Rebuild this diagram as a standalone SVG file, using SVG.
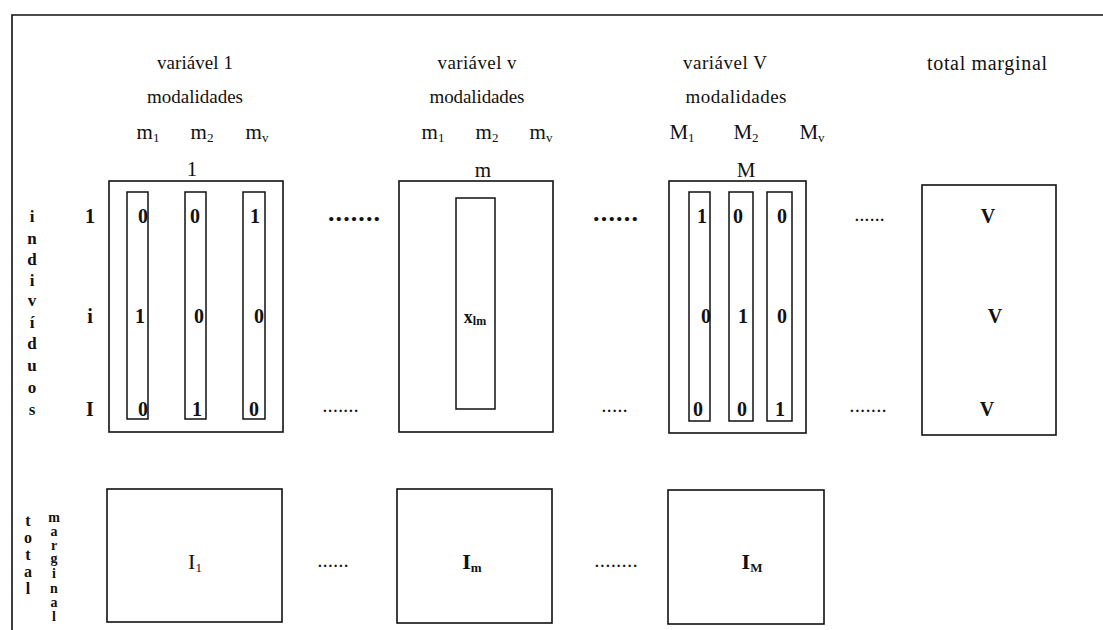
<svg xmlns="http://www.w3.org/2000/svg" width="1103" height="630" viewBox="0 0 1103 630">
<style>
text{font-family:"Liberation Serif","DejaVu Serif","Times New Roman",serif;fill:#111}
.h{font-size:19px;text-anchor:middle}
.ml{font-size:21px;text-anchor:middle}
.sub{font-size:13px}
.v{font-size:20px;font-weight:bold;text-anchor:middle}
.lab{font-size:17px;font-weight:bold;text-anchor:middle}
.lab2{font-size:16px;font-weight:bold;text-anchor:middle}
.lab3{font-size:14px;font-weight:bold;text-anchor:middle}
.box{fill:none;stroke:#111;stroke-width:1.6}
.col{fill:none;stroke:#111;stroke-width:1.5}
.big{font-size:26px;font-weight:bold}
.sm{font-size:15px;font-weight:bold}
.tot{font-size:22px;text-anchor:middle}
</style>
<rect width="1103" height="630" fill="#fff"/>
<g id="frame"><path d="M12 630V15H1103" fill="none" stroke="#111" stroke-width="1.6"/></g>

<g id="headers">
<text class="h" x="195" y="69" textLength="76" lengthAdjust="spacing">variável 1</text>
<text class="h" x="195" y="103" textLength="96" lengthAdjust="spacing">modalidades</text>
<text class="ml" x="148" y="139">m<tspan class="sub" dy="3">1</tspan></text>
<text class="ml" x="202" y="139">m<tspan class="sub" dy="3">2</tspan></text>
<text class="ml" x="257" y="139">m<tspan class="sub" dy="3">v</tspan></text>
<text class="ml" x="192" y="176">1</text>

<text class="h" x="477" y="69" textLength="79" lengthAdjust="spacing">variável  v</text>
<text class="h" x="477" y="103" textLength="95" lengthAdjust="spacing">modalidades</text>
<text class="ml" x="433" y="139">m<tspan class="sub" dy="3">1</tspan></text>
<text class="ml" x="487" y="139">m<tspan class="sub" dy="3">2</tspan></text>
<text class="ml" x="541" y="139">m<tspan class="sub" dy="3">v</tspan></text>
<text class="ml" x="483" y="177">m</text>

<text class="h" x="725" y="69" textLength="84" lengthAdjust="spacing">variável V</text>
<text class="h" x="736" y="103" textLength="101" lengthAdjust="spacing">modalidades</text>
<text class="ml" x="682" y="139">M<tspan class="sub" dy="3">1</tspan></text>
<text class="ml" x="746" y="139">M<tspan class="sub" dy="3">2</tspan></text>
<text class="ml" x="812" y="139">M<tspan class="sub" dy="3">v</tspan></text>
<text class="ml" x="746" y="177">M</text>

<text class="h" x="987" y="70" style="font-size:20px" textLength="120" lengthAdjust="spacing">total marginal</text>
</g>

<g id="row-labels">
<text class="lab"><tspan x="32" y="222">i</tspan><tspan x="32" y="244">n</tspan><tspan x="32" y="265">d</tspan><tspan x="32" y="286">i</tspan><tspan x="32" y="306">v</tspan><tspan x="32" y="328">í</tspan><tspan x="32" y="349">d</tspan><tspan x="32" y="371">u</tspan><tspan x="32" y="393">o</tspan><tspan x="32" y="415">s</tspan></text>
<text class="v" x="90" y="223">1</text>
<text class="v" x="90" y="323">i</text>
<text class="v" x="90" y="416">I</text>
</g>

<g id="matrix-1">
<rect class="box" x="109" y="181" width="174" height="251"/>
<rect class="col" x="127" y="192" width="21" height="227"/>
<rect class="col" x="185" y="192" width="21" height="227"/>
<rect class="col" x="243" y="192" width="22" height="227"/>
<text class="v" x="143" y="223">0</text>
<text class="v" x="195" y="223">0</text>
<text class="v" x="255" y="223">1</text>
<text class="v" x="140" y="323">1</text>
<text class="v" x="199" y="323">0</text>
<text class="v" x="259" y="323">0</text>
<text class="v" x="143" y="416">0</text>
<text class="v" x="197" y="416">1</text>
<text class="v" x="254" y="416">0</text>
</g>

<g id="matrix-m">
<rect class="box" x="399" y="181" width="154" height="251"/>
<rect class="col" x="456" y="198" width="39" height="211"/>
<text x="475" y="323" text-anchor="middle" style="font-size:18px;font-weight:bold">x<tspan style="font-size:12px" dy="2">lm</tspan></text>
</g>

<g id="matrix-M">
<rect class="box" x="669" y="181" width="137" height="252"/>
<rect class="col" x="689" y="192" width="21" height="229"/>
<rect class="col" x="729" y="192" width="24" height="229"/>
<rect class="col" x="767" y="192" width="25" height="229"/>
<text class="v" x="702" y="223">1</text>
<text class="v" x="738" y="223">0</text>
<text class="v" x="782" y="223">0</text>
<text class="v" x="706" y="323">0</text>
<text class="v" x="743" y="323">1</text>
<text class="v" x="782" y="323">0</text>
<text class="v" x="698" y="416">0</text>
<text class="v" x="742" y="416">0</text>
<text class="v" x="780" y="416">1</text>
</g>

<g id="total-column">
<rect class="box" x="922" y="185" width="134" height="250"/>
<text class="v" x="988" y="223">V</text>
<text class="v" x="995" y="323">V</text>
<text class="v" x="987" y="416">V</text>
</g>

<g id="ellipses">
<text class="big" x="328" y="221" textLength="52" lengthAdjust="spacing">.......</text>
<text class="sm" x="323" y="412" textLength="35" lengthAdjust="spacing">.......</text>
<text class="big" x="593" y="221" textLength="45" lengthAdjust="spacing">......</text>
<text class="sm" x="602" y="412" textLength="25" lengthAdjust="spacing">.....</text>
<text class="sm" x="855" y="221" textLength="29" lengthAdjust="spacing">......</text>
<text class="sm" x="850" y="412" textLength="36" lengthAdjust="spacing">.......</text>
<text class="sm" x="318" y="567" textLength="30" lengthAdjust="spacing">......</text>
<text class="sm" x="595" y="567" textLength="42" lengthAdjust="spacing">........</text>
</g>

<g id="bottom-labels">
<text class="lab2"><tspan x="28" y="526">t</tspan><tspan x="28" y="543">o</tspan><tspan x="28" y="560">t</tspan><tspan x="28" y="577">a</tspan><tspan x="28" y="594">l</tspan></text>
<text class="lab3"><tspan x="54" y="522">m</tspan><tspan x="54" y="536">a</tspan><tspan x="54" y="550">r</tspan><tspan x="54" y="563">g</tspan><tspan x="54" y="578">i</tspan><tspan x="54" y="593">n</tspan><tspan x="54" y="607">a</tspan><tspan x="54" y="621">l</tspan></text>
</g>

<g id="margin-1">
<rect class="box" x="107" y="489" width="175" height="133"/>
<text class="tot" x="195" y="569">I<tspan class="sub" dy="3">1</tspan></text>
</g>
<g id="margin-m">
<rect class="box" x="397" y="489" width="155" height="134"/>
<text class="tot" x="472" y="569" font-weight="bold">I<tspan class="sub" dy="3">m</tspan></text>
</g>
<g id="margin-M">
<rect class="box" x="668" y="490" width="156" height="134"/>
<text class="tot" x="752" y="569" font-weight="bold">I<tspan class="sub" dy="3">M</tspan></text>
</g>
</svg>
